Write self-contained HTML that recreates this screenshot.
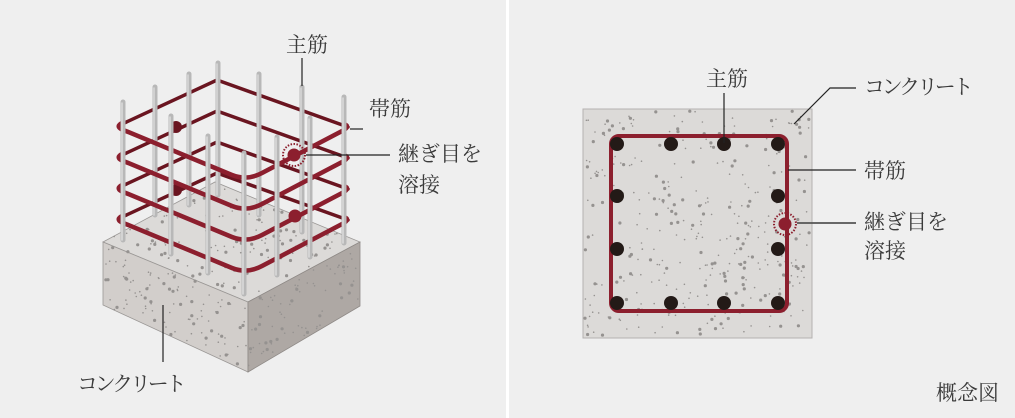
<!DOCTYPE html>
<html><head><meta charset="utf-8">
<style>
html,body{margin:0;padding:0;background:#efefef;}
svg{display:block;}
text{font-family:"Liberation Serif","Noto Serif CJK SC",serif;fill:#3a3a3a;font-size:21px;}
.k{letter-spacing:-3.2px;}
</style></head>
<body>
<svg id="s" width="1015" height="418" viewBox="0 0 1015 418" xmlns="http://www.w3.org/2000/svg">
<rect width="1015" height="418" fill="#efefef"/>
<rect x="506" y="0" width="3" height="418" fill="#ffffff"/>

<polygon points="103,242 215,182 360,242 248,302" fill="#dcdad8" stroke="#9a9795" stroke-width="0.8"/>
<polygon points="103,242 248,302 248,372 103,305" fill="#d2cecb" stroke="#9a9795" stroke-width="0.8"/>
<polygon points="248,302 360,242 360,306 248,372" fill="#aea8a4" stroke="#8f8a87" stroke-width="0.8"/>
<g id="dotsL"></g>

<g stroke="#6a1520" stroke-width="3.5" fill="none" stroke-linecap="round">
<polyline points="120,125 217,80 348,127"/>
<polyline points="120,156 217,111 348,158"/>
<polyline points="120,187 217,142 348,189"/>
<polyline points="120,218 217,173 348,220"/>
</g>
<circle cx="176" cy="127" r="6" fill="#6a1520"/>
<circle cx="176" cy="190" r="6" fill="#6a1520"/>
<g stroke-linecap="round">
<g stroke="#b8b8b8" stroke-width="5">
<line x1="155" y1="87" x2="155" y2="215"/>
<line x1="189" y1="74" x2="189" y2="205"/>
<line x1="218" y1="63" x2="218" y2="195"/>
<line x1="259" y1="74" x2="259" y2="215"/>
<line x1="302" y1="87" x2="302" y2="232"/>
</g>
<g stroke="#d8d8d8" stroke-width="1.5">
<line x1="154" y1="88" x2="154" y2="215"/>
<line x1="188" y1="75" x2="188" y2="205"/>
<line x1="217" y1="64" x2="217" y2="195"/>
<line x1="258" y1="75" x2="258" y2="215"/>
<line x1="301" y1="88" x2="301" y2="232"/>
</g>
</g>
<g stroke="#8c1f2e" stroke-width="4.5" fill="none" stroke-linejoin="round" stroke-linecap="round">
<path d="M122,123 Q116,126 121,129 L232,175 Q247,181 262,173 L344,130 Q350,126 344,124"/>
<path d="M122,154 Q116,157 121,160 L232,206 Q247,212 262,204 L344,161 Q350,157 344,155"/>
<path d="M122,185 Q116,188 121,191 L232,237 Q247,243 262,235 L344,192 Q350,188 344,186"/>
<path d="M122,216 Q116,219 121,222 L232,268 Q247,274 262,266 L344,223 Q350,219 344,217"/>
</g>
<g stroke-linecap="round">
<g stroke="#b8b8b8" stroke-width="5">
<line x1="123" y1="102" x2="123" y2="240"/>
<line x1="171" y1="116" x2="171" y2="254"/>
<line x1="208" y1="136" x2="208" y2="273"/>
<line x1="244" y1="153" x2="244" y2="294"/>
<line x1="277" y1="137" x2="277" y2="275"/>
<line x1="310" y1="118" x2="310" y2="257"/>
<line x1="344" y1="97" x2="344" y2="243"/>
</g>
<g stroke="#dcdcdc" stroke-width="1.5">
<line x1="122" y1="103" x2="122" y2="240"/>
<line x1="170" y1="117" x2="170" y2="254"/>
<line x1="207" y1="137" x2="207" y2="273"/>
<line x1="243" y1="154" x2="243" y2="294"/>
<line x1="276" y1="138" x2="276" y2="275"/>
<line x1="309" y1="119" x2="309" y2="257"/>
<line x1="343" y1="98" x2="343" y2="243"/>
</g>
</g>
<circle cx="294" cy="155" r="11" fill="none" stroke="#8c1f2e" stroke-width="2" stroke-dasharray="1.5 1.5"/>
<circle cx="294" cy="155" r="6.5" fill="#8c1f2e"/>
<circle cx="295" cy="216" r="6.5" fill="#8c1f2e"/>

<g stroke="#222" stroke-width="1.2">
<line x1="302" y1="58" x2="302" y2="86"/>
<line x1="350" y1="129" x2="363" y2="129"/>
<line x1="306" y1="155" x2="390" y2="155"/>
<line x1="163" y1="305" x2="163" y2="362"/>
</g>
<text x="286" y="52">主筋</text>
<text x="369" y="116">帯筋</text>
<text x="398" y="161">継ぎ目を</text>
<text x="398" y="192">溶接</text>
<text class="k" x="77" y="391">コンクリート</text>

<rect x="583" y="109" width="229" height="229" fill="#dcdad8" stroke="#b5b2b0" stroke-width="1"/>
<g id="dotsR"></g>
<rect x="611" y="136" width="176" height="175" rx="8" fill="none" stroke="#8c1f2e" stroke-width="4"/>
<g fill="#231a17">
<circle cx="617" cy="144" r="7"/><circle cx="671" cy="144" r="7"/><circle cx="724" cy="144" r="7"/><circle cx="778" cy="144" r="7"/>
<circle cx="617" cy="196" r="7"/><circle cx="778" cy="196" r="7"/>
<circle cx="617" cy="249" r="7"/><circle cx="778" cy="249" r="7"/>
<circle cx="617" cy="303" r="7"/><circle cx="671" cy="303" r="7"/><circle cx="724" cy="303" r="7"/><circle cx="778" cy="303" r="7"/>
</g>
<circle cx="785" cy="224" r="11" fill="none" stroke="#8c1f2e" stroke-width="2" stroke-dasharray="1.5 1.5"/>
<circle cx="785" cy="224" r="6.5" fill="#8c1f2e"/>
<g stroke="#222" stroke-width="1.2" fill="none">
<line x1="724" y1="93" x2="724" y2="143"/>
<polyline points="794,124 830,88 856,88"/>
<line x1="788" y1="170" x2="856" y2="170"/>
<line x1="797" y1="223" x2="856" y2="223" stroke="#555" stroke-width="1.8"/>
</g>
<text x="706" y="86">主筋</text>
<text class="k" x="864" y="94">コンクリート</text>
<text x="864" y="178">帯筋</text>
<text x="864" y="229">継ぎ目を</text>
<text x="864" y="258">溶接</text>
<text x="936" y="400">概念図</text>
</svg>
<script>
(function(){
var seed=7;function r(){seed=(seed*16807)%2147483647;return seed/2147483647;}
var ns="http://www.w3.org/2000/svg";
function add(g,x,y){var c=document.createElementNS(ns,"circle");c.setAttribute("cx",x.toFixed(1));c.setAttribute("cy",y.toFixed(1));c.setAttribute("r",(r()<0.35?1.6:0.8).toFixed(1));c.setAttribute("fill","#959290");g.appendChild(c);}
var R=document.getElementById("dotsR");
for(var i=0;i<380;i++){add(R,585+r()*225,111+r()*225);}
var L=document.getElementById("dotsL");
for(var i=0;i<300;i++){
 var t=r(),u=r(),x,y,k=r();
 if(k<0.4){x=103+t*112+u*145;y=242-t*60+u*60;}
 else if(k<0.75){x=103+t*145;y=242+t*60+u*63+t*4*u;}
 else{x=248+t*112;y=302-t*60+u*66;}
 add(L,x,y);
}
})();
</script>
</body></html>
